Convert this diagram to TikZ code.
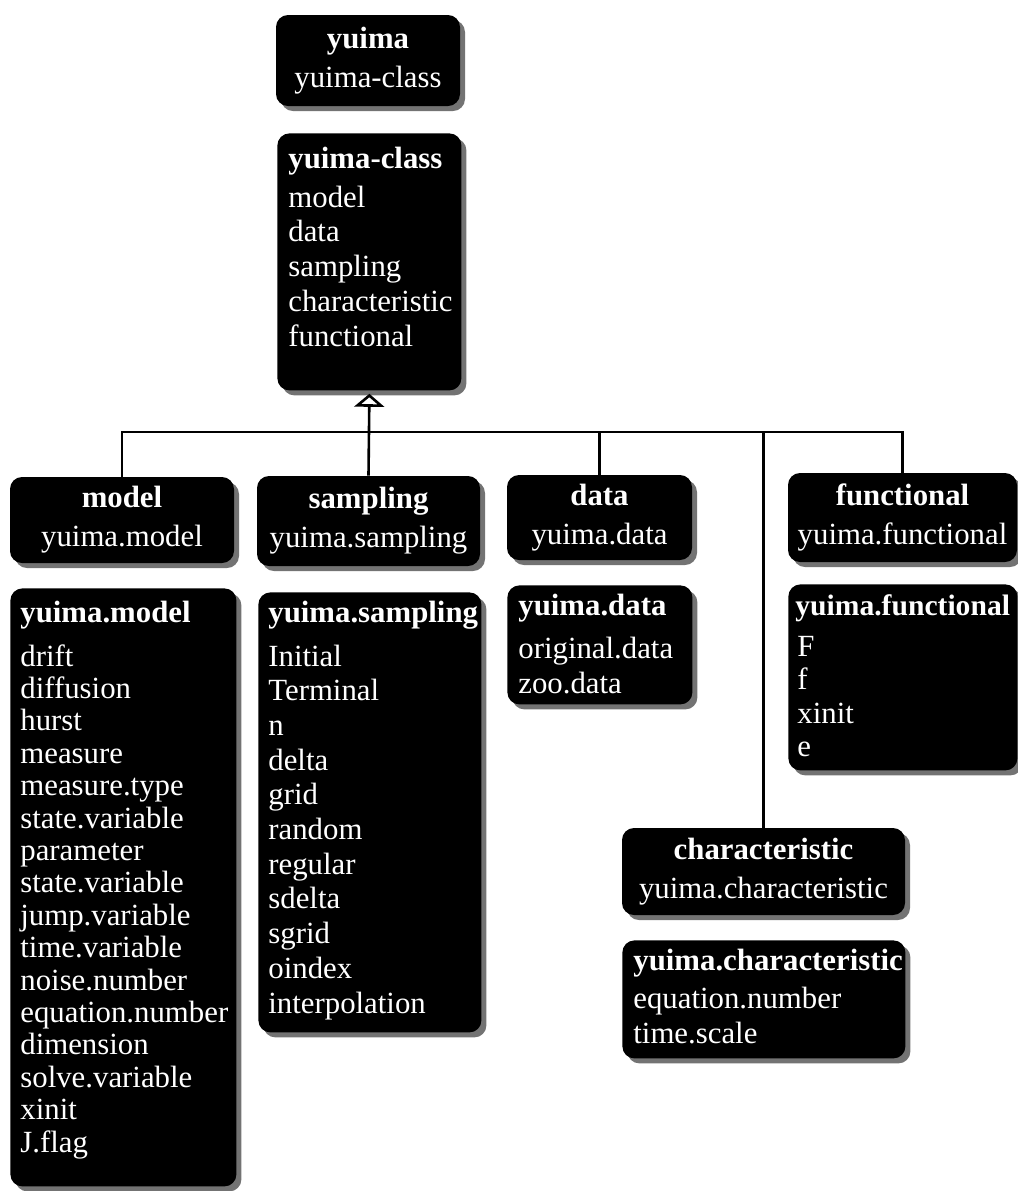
\documentclass[tikz,border=0pt]{standalone}
\usepackage{fontspec}
\setmainfont{Liberation Serif}
\usetikzlibrary{arrows.meta,shadows}
\tikzset{
  blackbox/.style={fill=black, rounded corners=6pt, inner sep=0pt, text=white,
    general shadow={fill=black!55, shadow xshift=2.5pt, shadow yshift=-2.5pt}},
  conn/.style={line width=1.3pt, draw=black},
  hdrtext/.style={align=center, font=\fontsize{15.4}{19.5}\selectfont},
  ttl/.style={text=white, font=\fontsize{15.4}{18}\selectfont\bfseries, anchor=base west, inner sep=0pt},
}
% header box: name, x1, y1, x2, y2, text
\newcommand\hdrbox[6]{\node[blackbox, hdrtext, minimum width={(#4-#2)*0.5pt}, minimum height={(#5-#3)*0.5pt}] (#1) at ({(#2+#4)/2},{(#3+#5)/2}) {#6};}
% list box frame: name, x1, y1, x2, y2
\newcommand\lstbox[5]{\node[blackbox, anchor=north west, minimum width={(#4-#2)*0.5pt}, minimum height={(#5-#3)*0.5pt}] (#1) at (#2,#3) {};}
% items: name, x, baseline, skip, content
\newcommand\lstitems[5]{\node[anchor=base west, inner sep=0pt, text=white, font=\fontsize{15.4}{#4}\selectfont] (#1) at (#2,#3) {\begin{tabular}[t]{@{}l@{}}#5\end{tabular}};}
\begin{document}
\begin{tikzpicture}[x=0.5pt,y=-0.5pt]
\useasboundingbox (0,0) rectangle (1018,1191);

% top
\hdrbox{yu}{276}{15}{460}{106}{\textbf{yuima}\\yuima-class}
\lstbox{yc}{277}{133}{461}{390}
\node[ttl] (ycT) at (288,168) {yuima-class};
\lstitems{ycI}{288}{207}{17.4pt}{model\\data\\sampling\\characteristic\\functional}

% headers
\hdrbox{mh}{10}{477}{234}{563}{\textbf{model}\\yuima.model}
\hdrbox{sh}{257}{476}{480}{566}{\textbf{sampling}\\yuima.sampling}
\hdrbox{dh}{507}{475}{692}{560}{\textbf{data}\\yuima.data}
\hdrbox{fh}{788}{473}{1017}{562}{\textbf{functional}\\yuima.functional}
\hdrbox{chh}{622}{828}{905}{915}{\textbf{characteristic}\\yuima.characteristic}

% lists
\lstbox{ym}{10}{588}{236}{1186}
\node[ttl] (ymT) at (20,622) {yuima.model};
\lstitems{ymI}{20}{666}{16.2pt}{drift\\diffusion\\hurst\\measure\\measure.type\\state.variable\\parameter\\state.variable\\jump.variable\\time.variable\\noise.number\\equation.number\\dimension\\solve.variable\\xinit\\J.flag}

\lstbox{ys}{258}{592}{481}{1032}
\node[ttl] (ysT) at (268,622) {yuima.sampling};
\lstitems{ysI}{268}{666}{17.35pt}{Initial\\Terminal\\n\\delta\\grid\\random\\regular\\sdelta\\sgrid\\oindex\\interpolation}

\lstbox{yd}{507}{585}{692}{704}
\node[ttl] (ydT) at (518,615) {yuima.data};
\lstitems{ydI}{518}{658}{17.5pt}{original.data\\zoo.data}

\lstbox{yf}{788}{584}{1017}{770}
\node[ttl, font=\fontsize{14.8}{18}\selectfont\bfseries] (yfT) at (795,615) {yuima.functional};
\lstitems{yfI}{797}{656}{16.75pt}{F\\f\\xinit\\e}

\lstbox{ych}{622}{940}{905}{1058}
\node[ttl] (ychT) at (633,970) {yuima.characteristic};
\lstitems{ychI}{633}{1008}{17.5pt}{equation.number\\time.scale}

% connectors
\coordinate (bus) at (0,432);
\draw[conn] (mh.north) -- (mh.north |- bus) -- (fh.north |- bus) -- (fh.north);
\draw[conn] (dh.north) -- (dh.north |- bus);
\draw[conn] (chh.north) -- (chh.north |- bus);
\draw[conn, -{Triangle[open, length=6.5pt, width=15pt, line width=1.3pt]}] (sh.north) -- ([yshift=-1.5pt]yc.south);
\end{tikzpicture}
\end{document}
